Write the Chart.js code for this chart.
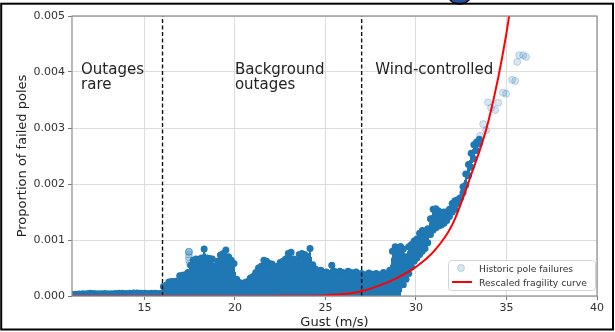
<!DOCTYPE html>
<html><head><meta charset="utf-8">
<script src="https://cdn.jsdelivr.net/npm/chart.js@4.4.0/dist/chart.umd.min.js"></script>
<style>html,body{margin:0;padding:0;background:#fff;} canvas{display:block;}</style>
</head><body>
<canvas id="c" width="615" height="332"></canvas>
<script>
// ---- data ----
const xTicks = [15, 20, 25, 30, 35, 40];
const yTicks = [0, 0.001, 0.002, 0.003, 0.004, 0.005];

// dense cloud of historic pole failures (gust, upper edge; cloud reaches down to zero)
const cloudGust = [11.0, 11.2, 11.4, 11.6, 11.8, 12.0, 12.2, 12.4, 12.6, 12.8, 13.0, 13.2, 13.4, 13.6, 13.8, 14.0, 14.2, 14.4, 14.6, 14.8, 15.0, 15.2, 15.4, 15.6, 15.8, 16.0,
  16.05, 16.2, 16.35, 16.5, 16.65, 16.8, 16.95, 17.1, 17.25, 17.4,
  17.55, 17.7, 17.85, 18.0, 18.15, 18.3, 18.45, 18.6, 18.75, 18.9,
  19.05, 19.2, 19.35, 19.5, 19.65, 19.8, 19.95, 20.1, 20.25, 20.4,
  20.55, 20.7, 20.85, 21.0, 21.15, 21.3, 21.45, 21.6, 21.75, 21.9,
  22.05, 22.2, 22.35, 22.5, 22.65, 22.8, 22.95, 23.1, 23.25, 23.4,
  23.55, 23.7, 23.85, 24.0, 24.15, 24.3, 24.45, 24.6, 24.75, 24.9,
  25.05, 25.2, 25.35, 25.5, 25.65, 25.8, 25.95, 26.1, 26.25, 26.4,
  26.55, 26.7, 26.85, 27.0, 27.2, 27.4, 27.6, 27.8, 28.0, 28.2, 28.4, 28.55,
  28.7, 28.85, 29.0, 29.15];
const cloudTop = [0.00003, 0.00003, 0.000035, 0.00004, 0.00004, 0.00005, 0.000045, 0.00004, 0.00004, 0.000045, 0.00004, 0.00004, 0.000045, 0.00005, 0.00005, 0.000045, 0.00005, 0.000055, 0.000055, 0.00005, 0.00005, 0.000045, 0.00005, 0.00005, 0.000045, 0.00005,
  0.00017, 0.00019, 0.00025, 0.00026, 0.00026, 0.00027, 0.00036, 0.00037, 0.00038, 0.00042,
  0.00055, 0.00064, 0.00066, 0.00065, 0.00068, 0.00084, 0.00068, 0.00067, 0.00066, 0.00053,
  0.00062, 0.00073, 0.00076, 0.00082, 0.00070, 0.00064, 0.00058, 0.00030, 0.00024, 0.00022,
  0.00024, 0.00026, 0.00032, 0.00035, 0.00042, 0.00050, 0.00053, 0.00064, 0.00062, 0.00058,
  0.00057, 0.00052, 0.00053, 0.00060, 0.00062, 0.00066, 0.00076, 0.00078, 0.00066, 0.00064,
  0.00074, 0.00076, 0.00074, 0.00070, 0.00085, 0.00056, 0.00048, 0.00044, 0.00046, 0.00042,
  0.00043, 0.00040, 0.00055, 0.00044, 0.00042, 0.00044, 0.00042, 0.00040, 0.00044, 0.00042,
  0.00041, 0.00043, 0.00039, 0.00040, 0.00038, 0.00041, 0.00039, 0.00040, 0.00038, 0.00042, 0.00040, 0.00046,
  0.00080, 0.00088, 0.00086, 0.00088];

// wind-controlled band (gust, upper edge, lower edge)
const bandGust = [29.15, 29.3, 29.45, 29.6, 29.75, 29.9, 30.05, 30.2, 30.35, 30.5, 30.65, 30.8, 30.95, 31.1, 31.25, 31.4, 31.55, 31.7, 31.85, 32.0, 32.15, 32.3, 32.45, 32.6, 32.75, 32.9, 33.05, 33.2, 33.35, 33.5];
const bandTop = [0.00088, 0.00084, 0.00070, 0.00088, 0.00092, 0.00098, 0.00102, 0.00112, 0.00117, 0.00115, 0.00120, 0.00138, 0.00155, 0.00156, 0.00152, 0.00148, 0.00150, 0.00150, 0.00155, 0.00165, 0.00170, 0.00172, 0.00175, 0.00195, 0.00218, 0.00235, 0.00255, 0.00270, 0.00275, 0.00280];
const bandBottom = [0, 0.00020, 0.00030, 0.00040, 0.00052, 0.00062, 0.00068, 0.00074, 0.00080, 0.00085, 0.00095, 0.00110, 0.00118, 0.00122, 0.00125, 0.00127, 0.00130, 0.00135, 0.00142, 0.00150, 0.00155, 0.00165, 0.00175, 0.00185, 0.00198, 0.00215, 0.00230, 0.00245, 0.00260, 0.00272];

// isolated (sparse) failure points
const sparseGust = [17.46, 17.46, 17.46, 17.46, 17.46, 17.46, 17.5, 33.54, 33.71, 33.87, 33.98, 34.15, 34.37, 34.54, 34.81, 34.98, 35.31, 35.48, 35.59, 35.70, 35.92, 36.08];
const sparseVal  = [0.00079, 0.00079, 0.00079, 0.00074, 0.00069, 0.00064, 0.00058, 0.00286, 0.00307, 0.00296, 0.00346, 0.00336, 0.00332, 0.00345, 0.00363, 0.00361, 0.00386, 0.00384, 0.00418, 0.00430, 0.00430, 0.00427];

// rescaled fragility curve
const curveGust = [11, 18, 22, 24, 25, 26, 27, 28, 29, 30, 31, 32, 33, 34, 35, 36];
const curveVal  = [0, 0, 0.000002, 0.000006, 0.000015, 0.000035, 0.000085, 0.00019, 0.00033, 0.00052, 0.00080, 0.00127, 0.00212, 0.00312, 0.00470, 0.00700];

// regime boundaries and labels
const dividers = [16, 27];
const annTexts = [['Outages', 'rare'], ['Background', 'outages'], ['Wind-controlled']];
const annX = [11.5, 20.0, 27.75];
const annY = [0.00396, 0.00396, 0.00396];

const seriesNames = ['Historic pole failures', 'Rescaled fragility curve'];

// ---- chart ----
const BLUE = 'rgb(31,119,180)';
const FONT = 'DejaVu Sans';
Chart.defaults.font.family = FONT;

const pts = (xs, ys) => xs.map((x, i) => ({ x: x, y: ys[i] }));

const datasets = [
  { // 0: dense cloud (area painted by cloudFill plugin down to zero)
    label: '_cloud', data: pts(cloudGust, cloudTop),
    showLine: false, fill: false,
    pointRadius: 3.5, pointBackgroundColor: BLUE, pointBorderWidth: 0,
    order: 5
  },
  { // 1: lower edge of wind band
    label: '_bandBottom', data: pts(bandGust, bandBottom),
    showLine: false, fill: false,
    pointRadius: c => (c.raw && c.raw.y > 0 ? 3.5 : 0),
    pointBackgroundColor: BLUE, pointBorderWidth: 0,
    order: 5
  },
  { // 2: upper edge of wind band
    label: '_bandTop', data: pts(bandGust, bandTop),
    showLine: false, fill: false,
    pointRadius: 3.5, pointBackgroundColor: BLUE, pointBorderWidth: 0,
    order: 4
  },
  { // 3: sparse points
    label: seriesNames[0], data: pts(sparseGust, sparseVal),
    showLine: false, pointRadius: 3.5,
    pointBackgroundColor: 'rgba(31,119,180,0.18)', pointBorderColor: 'rgba(31,119,180,0.25)', pointBorderWidth: 1,
    order: 3
  }
];
dividers.forEach((d, i) => datasets.push({
  label: '_div' + i, data: [{ x: d, y: yTicks[0] }, { x: d, y: yTicks[yTicks.length - 1] }],
  borderColor: '#111', borderWidth: 1.4, borderDash: [4, 2.5], pointRadius: 0, fill: false, order: 2
}));
datasets.push({
  label: seriesNames[1], data: pts(curveGust, curveVal),
  borderColor: '#ff0000', borderWidth: 2, pointRadius: 0, fill: false,
  cubicInterpolationMode: 'monotone', order: 0
});

// paints the cloud/band area column by column between the library-placed edge points
function edgeAt(els, x) {
  for (let i = 1; i < els.length; i++) {
    const p = els[i - 1], q = els[i];
    if (x >= p.x && x <= q.x) return p.y + (q.y - p.y) * (x - p.x) / ((q.x - p.x) || 1);
  }
  return null;
}
const cloudFill = {
  id: 'cloudFill',
  beforeDatasetsDraw(chart) {
    const { ctx, chartArea: a, scales } = chart;
    const y0 = scales.y.getPixelForValue(0);
    ctx.save();
    ctx.fillStyle = BLUE;
    const c = chart.getDatasetMeta(0).data;
    const bot = chart.getDatasetMeta(1).data, top = chart.getDatasetMeta(2).data;
    const x1 = Math.floor(c[0].x), x2 = Math.ceil(top[top.length - 1].x);
    for (let x = x1; x < x2; x++) {
      const cx = Math.max(x + 0.5, c[0].x);
      let t = edgeAt(c, cx), b = y0;
      if (t === null) { t = edgeAt(top, cx); b = edgeAt(bot, cx); }
      if (t === null || b === null) continue;
      const tt = Math.max(t, a.top);
      ctx.fillRect(x, tt, 1, b - tt);
    }
    ctx.restore();
  }
};

const framePlugin = {
  id: 'frame',
  afterDatasetsDraw(chart) {
    const { ctx, chartArea: a, scales } = chart;
    ctx.save();
    ctx.strokeStyle = '#8c8c8c'; ctx.lineWidth = 1.2;
    ctx.strokeRect(a.left, a.top, a.right - a.left, a.bottom - a.top);
    ctx.fillStyle = '#222'; ctx.font = '15px "' + FONT + '"';
    ctx.textBaseline = 'alphabetic'; ctx.textAlign = 'left';
    annTexts.forEach((lines, i) => {
      const x = scales.x.getPixelForValue(annX[i]);
      const y = scales.y.getPixelForValue(annY[i]);
      lines.forEach((t, j) => ctx.fillText(t, x, y + j * 15));
    });
    const w = 147, h = 30;
    const bx = a.right - 2 - w, by = a.bottom - 6 - h;
    ctx.beginPath();
    ctx.roundRect(bx + 0.5, by + 0.5, w, h, 3);
    ctx.fillStyle = 'rgba(255,255,255,0.85)'; ctx.fill();
    ctx.strokeStyle = '#d4d4d4'; ctx.lineWidth = 1; ctx.stroke();
    ctx.beginPath(); ctx.arc(bx + 13, by + 8, 3.5, 0, Math.PI * 2);
    ctx.fillStyle = 'rgba(31,119,180,0.18)'; ctx.fill();
    ctx.strokeStyle = 'rgba(31,119,180,0.25)'; ctx.stroke();
    ctx.beginPath(); ctx.moveTo(bx + 4, by + 22); ctx.lineTo(bx + 24, by + 22);
    ctx.strokeStyle = '#ff0000'; ctx.lineWidth = 2; ctx.stroke();
    ctx.fillStyle = '#333'; ctx.font = '9.2px "' + FONT + '"';
    ctx.fillText(seriesNames[0], bx + 31, by + 11.5);
    ctx.fillText(seriesNames[1], bx + 31, by + 25.5);
    ctx.restore();
  },
  afterDraw(chart) {
    const { ctx } = chart;
    ctx.save();
    ctx.beginPath(); ctx.arc(459.5, -9, 13, 0, Math.PI * 2);
    ctx.fillStyle = '#2452a0'; ctx.fill();
    ctx.strokeStyle = '#111'; ctx.lineWidth = 1.5; ctx.stroke();
    ctx.strokeStyle = '#000'; ctx.lineWidth = 2;
    ctx.strokeRect(1.2, 3.7, 611.8, 325.8);
    ctx.restore();
  }
};

new Chart(document.getElementById('c'), {
  type: 'line',
  data: { datasets: datasets },
  options: {
    responsive: false, animation: false,
    layout: { padding: { top: 16, right: 18, left: 0, bottom: 0 } },
    scales: {
      x: {
        type: 'linear', min: 11, max: 40,
        afterBuildTicks: s => { s.ticks = xTicks.map(v => ({ value: v })); },
        afterFit: s => { s.height = 36; },
        grid: { color: '#dddddd', lineWidth: 1, tickColor: '#777', tickLength: 4 },
        border: { display: false },
        ticks: { color: '#333', font: { size: 11 }, padding: 2, maxRotation: 0, autoSkip: false },
        title: { display: true, text: 'Gust (m/s)', color: '#222', font: { size: 13 }, padding: { top: 0, bottom: 1.5 } }
      },
      y: {
        type: 'linear', min: 0, max: 0.005,
        afterBuildTicks: s => { s.ticks = yTicks.map(v => ({ value: v })); },
        afterFit: s => { s.width = 72; },
        grid: { color: '#dddddd', lineWidth: 1, tickColor: '#777', tickLength: 4 },
        border: { display: false },
        ticks: { color: '#333', font: { size: 11 }, padding: 3, callback: v => Number(v).toFixed(3) },
        title: { display: true, text: 'Proportion of failed poles', color: '#222', font: { size: 13 }, padding: { top: 14.5, bottom: 0 } }
      }
    },
    plugins: { legend: { display: false }, tooltip: { enabled: false } }
  },
  plugins: [cloudFill, framePlugin]
});
</script></body></html>
